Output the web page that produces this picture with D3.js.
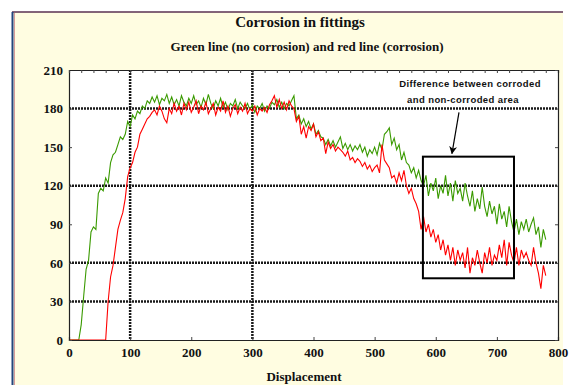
<!DOCTYPE html>
<html>
<head>
<meta charset="utf-8">
<script src="https://cdn.jsdelivr.net/npm/d3@7"></script>
<style>
  html, body { margin: 0; padding: 0; background: #ffffff; }
  svg { display: block; }
</style>
</head>
<body>
<svg id="chart" width="575" height="385"></svg>
<script>
// Sample positions (displacement) shared by both traces
const displacement = d3.range(0, 781, 4);

// Green line: no corrosion
const greenValues = [
  0, 0, 0, 0, 0, 12, 34, 55, 62, 84, 88, 86, 114, 118, 116, 126,
  122, 138, 144, 146, 152, 158, 156, 160, 170, 166, 175, 172, 178, 176, 182, 180,
  186, 184, 189, 185, 190, 183, 188, 186, 191, 184, 189, 183, 187, 182, 190, 185,
  182, 188, 184, 190, 183, 186, 181, 188, 183, 191, 184, 180, 186, 182, 188, 181,
  185, 179, 184, 182, 187, 180, 185, 182, 180, 184, 179, 183, 177, 182, 180, 184,
  178, 182, 180, 185, 183, 187, 181, 185, 180, 184, 182, 186, 190, 172, 175, 168,
  172, 166, 170, 164, 168, 160, 163, 158, 157, 152, 156, 151, 155, 150, 154, 158,
  149, 153, 148, 152, 147, 151, 148, 152, 146, 150, 143, 148, 145, 150, 144, 153,
  148, 160, 162, 165, 152, 157, 148, 152, 140, 146, 138, 136, 130, 134, 126, 132,
  124, 120, 128, 112, 122, 116, 126, 110, 120, 114, 128, 112, 122, 108, 124, 114,
  118, 108, 122, 112, 104, 116, 100, 110, 102, 119, 104, 96, 108, 98, 104, 90,
  106, 94, 100, 88, 104, 92, 84, 94, 82, 92, 86, 94, 84, 90, 95, 82,
  88, 72, 86, 78
];

// Red line: corrosion
const redValues = [
  0, 0, 0, 0, 0, 0, 0, 0, 0, 0, 0, 0, 0, 0, 0, 0,
  30, 49, 58, 72, 86, 93, 99, 110, 127, 134, 138, 146, 150, 160, 164, 168,
  172, 174, 177, 179, 175, 182, 178, 172, 169, 180, 176, 184, 178, 182, 175, 184,
  179, 185, 177, 181, 186, 176, 182, 179, 185, 176, 180, 184, 175, 181, 178, 186,
  177, 182, 174, 180, 183, 176, 181, 178, 184, 176, 180, 178, 182, 175, 180, 178,
  181, 177, 183, 186, 190, 181, 187, 180, 185, 179, 186, 182, 180, 170, 174, 160,
  166, 157, 166, 163, 168, 158, 162, 155, 157, 145, 154, 149, 152, 147, 150, 148,
  146, 143, 147, 140, 142, 138, 141, 139, 135, 138, 133, 136, 131, 134, 136, 130,
  152, 140, 137, 134, 126, 128, 122, 130, 124, 132, 120, 114, 118, 110, 106, 100,
  86, 96, 84, 90, 80, 86, 76, 82, 70, 78, 66, 74, 62, 72, 58, 70,
  62, 68, 56, 72, 52, 64, 58, 70, 60, 52, 68, 60, 72, 58, 66, 62,
  74, 64, 78, 58, 76, 66, 60, 72, 58, 70, 64, 68, 62, 58, 72, 60,
  52, 40, 58, 50
];

const xTicks = [0, 100, 200, 300, 400, 500, 600, 700, 800];
const yTicks = [0, 30, 60, 90, 120, 150, 180, 210];
const gridX = [100, 300];
const gridY = [30, 60, 120, 180];

// Annotation box and arrow, in data units
const boxX = [579, 728];
const boxY = [48, 142.6];
const arrowFrom = [638, 177];
const arrowTo = [626.5, 145];
const noteLines = ['Difference between corroded', 'and non-corroded area'];

const svg = d3.select('#chart');
const serif = '"Liberation Serif", "Times New Roman", serif';

// Panel background and frame
svg.append('rect')
  .attr('x', 12).attr('y', 12).attr('width', 551).attr('height', 373)
  .attr('fill', '#fffde1');
svg.append('line')
  .attr('x1', 12).attr('x2', 563).attr('y1', 12).attr('y2', 12)
  .attr('stroke', '#5a3050').attr('stroke-width', 1.5);
svg.append('line')
  .attr('x1', 12.5).attr('x2', 12.5).attr('y1', 12).attr('y2', 385)
  .attr('stroke', '#24467e').attr('stroke-width', 2);
svg.append('line')
  .attr('x1', 14.5).attr('x2', 14.5).attr('y1', 13).attr('y2', 385)
  .attr('stroke', '#d79a9a').attr('stroke-width', 1);

const plotLeft = 69, plotRight = 558, plotTop = 70, plotBottom = 340;

const x = d3.scaleLinear().domain([0, 800]).range([plotLeft, plotRight]);
const y = d3.scaleLinear().domain([0, 210]).range([plotBottom, plotTop]);

svg.append('rect')
  .attr('x', plotLeft).attr('y', plotTop)
  .attr('width', plotRight - plotLeft).attr('height', plotBottom - plotTop)
  .attr('fill', '#ffffff');

// Dotted grid lines (only a few of them)
const grid = svg.append('g').attr('class', 'grid');
grid.selectAll('line.gy')
  .data(gridY)
  .join('line')
  .attr('class', 'gy')
  .attr('x1', plotLeft).attr('x2', plotRight)
  .attr('y1', d => y(d)).attr('y2', d => y(d))
  .attr('stroke', '#1a1a1a')
  .attr('stroke-width', 2.5)
  .attr('stroke-dasharray', '2,1');
grid.selectAll('line.gx')
  .data(gridX)
  .join('line')
  .attr('class', 'gx')
  .attr('x1', d => x(d)).attr('x2', d => x(d))
  .attr('y1', plotTop).attr('y2', plotBottom)
  .attr('stroke', '#1a1a1a')
  .attr('stroke-width', 2.5)
  .attr('stroke-dasharray', '2,1');

// Traces
const line = d3.line()
  .x((d, i) => x(displacement[i]))
  .y(d => y(d));

svg.append('path')
  .datum(greenValues)
  .attr('d', line)
  .attr('fill', 'none')
  .attr('stroke', '#3a9a00')
  .attr('stroke-width', 1.1);

svg.append('path')
  .datum(redValues)
  .attr('d', line)
  .attr('fill', 'none')
  .attr('stroke', '#ff0000')
  .attr('stroke-width', 1.1);

// Axes
const xAxis = svg.append('g')
  .attr('transform', `translate(0, ${plotBottom})`)
  .call(d3.axisBottom(x).tickValues(xTicks).tickSize(-3).tickPadding(8));
const yAxis = svg.append('g')
  .attr('transform', `translate(${plotLeft}, 0)`)
  .call(d3.axisLeft(y).tickValues(yTicks).tickSize(-3).tickPadding(6));
const topAxis = svg.append('g')
  .attr('transform', `translate(0, ${plotTop})`)
  .call(d3.axisTop(x).ticks(32).tickSize(-3).tickFormat(''));
const rightAxis = svg.append('g')
  .attr('transform', `translate(${plotRight}, 0)`)
  .call(d3.axisRight(y).tickValues(yTicks).tickSize(-3).tickFormat(''));

[xAxis, yAxis, topAxis, rightAxis].forEach(g => {
  g.select('.domain').attr('stroke', '#222').attr('stroke-width', 1.2);
  g.selectAll('.tick line').attr('stroke', '#444');
  g.selectAll('text')
    .attr('fill', '#111')
    .attr('font-family', serif)
    .attr('font-weight', 'bold')
    .attr('font-size', '13px');
});

// Titles
svg.append('text')
  .attr('x', 300).attr('y', 27)
  .attr('text-anchor', 'middle')
  .attr('font-family', serif).attr('font-weight', 'bold').attr('font-size', '15px')
  .attr('fill', '#111')
  .text('Corrosion in fittings');
svg.append('text')
  .attr('x', 307).attr('y', 51)
  .attr('text-anchor', 'middle')
  .attr('font-family', serif).attr('font-weight', 'bold').attr('font-size', '13px')
  .attr('fill', '#111')
  .text('Green line (no corrosion) and red line (corrosion)');
svg.append('text')
  .attr('x', 304).attr('y', 381)
  .attr('text-anchor', 'middle')
  .attr('font-family', serif).attr('font-weight', 'bold').attr('font-size', '13px')
  .attr('fill', '#111')
  .text('Displacement');

// Annotation
svg.append('rect')
  .attr('x', x(boxX[0])).attr('y', y(boxY[1]))
  .attr('width', x(boxX[1]) - x(boxX[0]))
  .attr('height', y(boxY[0]) - y(boxY[1]))
  .attr('fill', 'none')
  .attr('stroke', '#000')
  .attr('stroke-width', 2);

svg.append('defs').append('marker')
  .attr('id', 'head')
  .attr('viewBox', '0 0 10 10')
  .attr('refX', 9).attr('refY', 5)
  .attr('markerWidth', 8).attr('markerHeight', 8)
  .attr('markerUnits', 'userSpaceOnUse')
  .attr('orient', 'auto')
  .append('path')
  .attr('d', 'M0,0 L10,5 L0,10 L3,5 Z')
  .attr('fill', '#000');

svg.append('line')
  .attr('x1', x(arrowFrom[0])).attr('y1', y(arrowFrom[1]))
  .attr('x2', x(arrowTo[0])).attr('y2', y(arrowTo[1]))
  .attr('stroke', '#000').attr('stroke-width', 1.2)
  .attr('marker-end', 'url(#head)');

svg.selectAll('text.note')
  .data(noteLines)
  .join('text')
  .attr('class', 'note')
  .attr('x', (d, i) => i === 0 ? 470 : 463)
  .attr('y', (d, i) => 87 + i * 16)
  .attr('text-anchor', 'middle')
  .attr('font-family', '"Liberation Sans", Arial, sans-serif')
  .attr('font-size', '9.5px')
  .attr('font-weight', 'bold')
  .attr('letter-spacing', '0.4px')
  .attr('fill', '#111')
  .text(d => d);
</script>
</body>
</html>
